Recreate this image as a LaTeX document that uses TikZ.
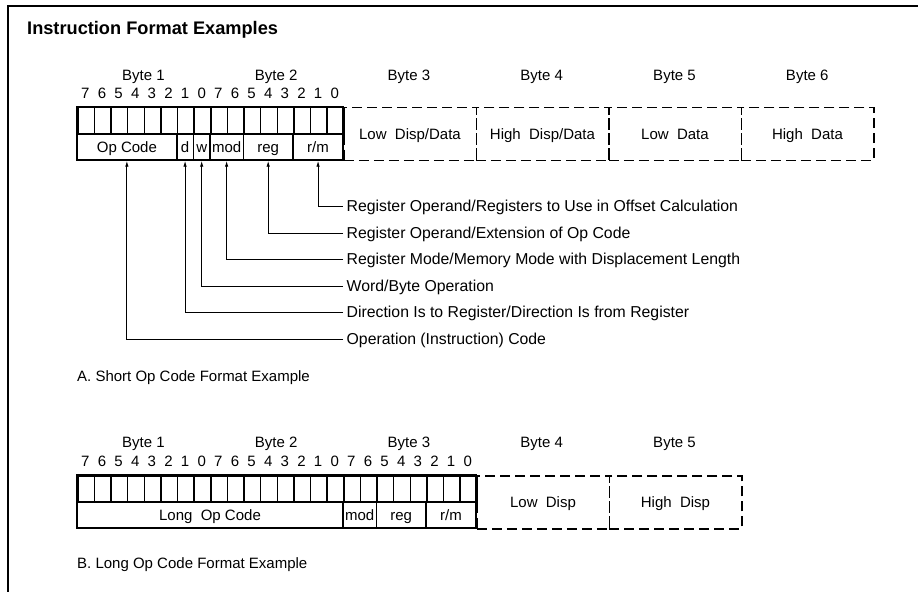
\documentclass[tikz,border=0pt]{standalone}
\usepackage{fontspec}
\setmainfont{Liberation Sans}
\usetikzlibrary{arrows.meta}
\begin{document}
\begin{tikzpicture}[x=1bp,y=-1bp,
  txt/.style={font=\fontsize{15bp}{16bp}\selectfont, inner sep=0pt, text height=10.8bp, text depth=0bp},
  lbl/.style={txt, font=\fontsize{15.8bp}{17bp}\selectfont, anchor=west, inner xsep=3.5bp},
  cell/.style={draw, line width=1.5bp, minimum width=16.625bp, minimum height=26.5bp, inner sep=0pt, anchor=north west},
  field/.style={txt, draw, line width=1.5bp, minimum height=26.5bp},
  dbox/.style={txt, draw, dash pattern=on 10bp off 5bp, line width=1.5bp, minimum width=132.5bp, minimum height=53bp, anchor=north west},
  outer/.style={draw, line width=2.3bp},
  lead/.style={line width=0.9bp, -{Latex[length=6bp,width=3.5bp]}},
  frame/.style={line width=1.5bp}]
\useasboundingbox (0,0) rectangle (918,592);
% frame
\draw[frame] (8,592) -- (8,6) -- (918,6);
\node[anchor=west, inner sep=0pt, font=\bfseries\fontsize{18.2bp}{20bp}\selectfont, text height=13bp, text depth=0bp] (title) at (27,28) {Instruction Format Examples};

% ---------- A: short op code ----------
\foreach \i/\b in {0/1,1/2,2/3,3/4,4/5,5/6} {
  \node[txt] (ta\i) at ({143.5+\i*132.75},75) {Byte \b};
}
\foreach \i in {0,...,15} {
  \pgfmathtruncatemacro\bit{7-mod(\i,8)}
  \node[txt] (ba\i) at ({77+(\i+0.5)*16.625},93) {\bit};
  \node[cell] (ca\i) at ({77+\i*16.625},107) {};
}
\foreach \nm/\a/\b/\t in {op/0/6/{Op Code}, d/6/7/d, w/7/8/w, mod/8/10/mod, reg/10/13/reg, rm/13/16/{r/m}} {
  \pgfmathsetmacro\fw{(\b-\a)*16.625}
  \pgfmathsetmacro\fx{77+(\a+\b)/2*16.625}
  \node[field, minimum width=\fw bp] (f\nm) at (\fx,146.75) {\t};
}
\draw[outer] (77,107) rectangle (343,160);
\node[dbox] (da3) at (343,107) {Low\ \ Disp/Data};
\node[dbox] (da4) at (475.5,107) {High\ \ Disp/Data};
\node[dbox] (da5) at (608,107) {Low\ \ Data};
\node[dbox] (da6) at (740.5,107) {High\ \ Data};

\node[lbl] (lrm) at (343,206) {Register Operand/Registers to Use in Offset Calculation};
\node[lbl] (lreg) at (343,233) {Register Operand/Extension of Op Code};
\node[lbl] (lmod) at (343,259.5) {Register Mode/Memory Mode with Displacement Length};
\node[lbl] (lw) at (343,286) {Word/Byte Operation};
\node[lbl] (ld) at (343,312.5) {Direction Is to Register/Direction Is from Register};
\node[lbl] (lop) at (343,339) {Operation (Instruction) Code};
\foreach \nm in {rm,reg,mod,w,d,op} {
  \draw[lead] (l\nm.west) -| (f\nm.south);
}
\node[txt, anchor=west] (capa) at (77,376) {A. Short Op Code Format Example};

% ---------- B: long op code ----------
\foreach \i/\b in {0/1,1/2,2/3,3/4,4/5} {
  \node[txt] (tb\i) at ({143.5+\i*132.75},442) {Byte \b};
}
\foreach \i in {0,...,23} {
  \pgfmathtruncatemacro\bit{7-mod(\i,8)}
  \node[txt] (bb\i) at ({77+(\i+0.5)*16.625},461) {\bit};
  \node[cell] (cb\i) at ({77+\i*16.625},475) {};
}
\foreach \nm/\a/\b/\t in {lop/0/16/{Long\ \ Op Code}, mod/16/18/mod, reg/18/21/reg, rm/21/24/{r/m}} {
  \pgfmathsetmacro\fw{(\b-\a)*16.625}
  \pgfmathsetmacro\fx{77+(\a+\b)/2*16.625}
  \node[field, minimum width=\fw bp] (g\nm) at (\fx,514.75) {\t};
}
\draw[outer] (77,475) rectangle (476,528);
\node[dbox] (db4) at (476,475) {Low\ \ Disp};
\node[dbox] (db5) at (608.5,475) {High\ \ Disp};
\node[txt, anchor=west] (capb) at (77,563) {B. Long Op Code Format Example};
\end{tikzpicture}
\end{document}
